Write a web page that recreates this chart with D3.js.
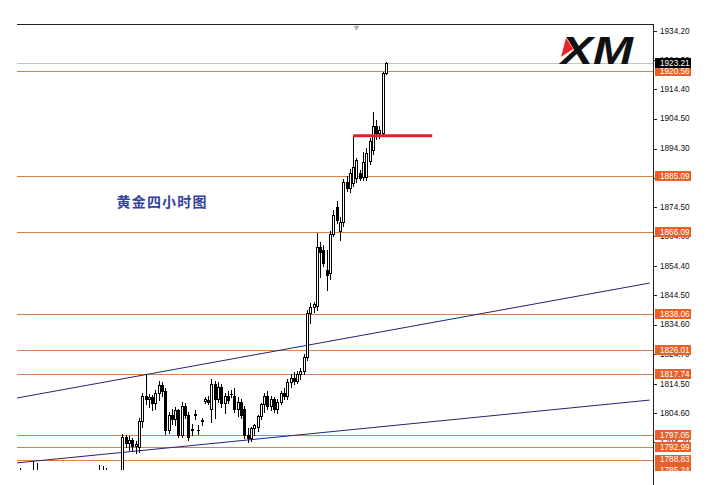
<!DOCTYPE html>
<html><head><meta charset="utf-8">
<script src="https://cdn.jsdelivr.net/npm/d3@7"></script>
<style>body{margin:0;background:#fff}svg{display:block}</style>
</head><body>
<svg id="c" width="713" height="485"></svg>
<script>
// ---- data (XAUUSD H4) ----
const opens  = [1780,1778,1774,1777,1781,1785,1780,1775,1770,1772,1768,1766,1770,1773,1771,1768,1770,1775,1774,1777,1776,1778,1780,1779,1783,1781,1785,1781,1782,1779,1782,
  1779,1796.5,1794.5,1795.5,1793.5,1793,1802,1810.5,1809.5,1810,1808,1811.5,1814,1812,1799,1804,1802.5,1805.5,1797,1807,1804,1799.3,1804,1799,1802,1808.8,1809,1806,1814.5,1809.5,1813.5,1808,1810.5,1811,1810.5,1806,1808.5,1806,1797,1796,1799.5,1800,1803.5,1807.5,1810.5,1807,1809.5,1806,1808.5,1811.5,1810.5,1815.2,1816.5,1815.5,1818,1819,1823.5,1838.5,1840.5,1841,1861,1860,1853,1852,1865.5,1874.5,1866.5,1869.4,1883,1881,1882.5,1884.3,1886,1884.7,1884.7,1890,1893.8,1902,1899.5,1899.5,1920];
const highs  = [1786,1782,1779,1783,1788.5,1787.5,1783,1778,1774,1776,1771,1772,1775,1777,1774,1772,1776,1779,1778,1781,1780,1782,1783,1784,1787,1786.5,1786,1784,1784,1783,1784.8,
  1797.5,1797.3,1796.8,1796,1795,1803,1811.5,1817.7,1811,1810.8,1812.5,1815.5,1815,1813,1805,1806,1806.5,1806,1808.5,1808,1805,1800.8,1805.5,1800.5,1803,1810,1810.5,1816,1815.5,1815,1814.5,1811.5,1812,1812.5,1813,1810,1809.5,1807,1799.5,1800,1801,1804,1808,1811.5,1812,1810.5,1810,1809.5,1812,1813,1816,1818,1818.5,1819,1820,1824.5,1839.5,1842,1842.3,1865.6,1862.5,1861.6,1860,1866.5,1873.5,1876.5,1871,1884,1885,1887.5,1898.7,1891,1887,1893,1894.5,1898,1906.8,1904,1902,1920.2,1923.7];
const lows   = [1776,1772,1770,1775,1779,1779,1774,1768,1765,1767,1762,1764,1768,1769,1766,1765,1769,1772,1771,1774,1773,1776,1777,1777,1780,1779,1780,1778,1777,1776,1778,
  1777,1793,1792,1791.8,1791.2,1791.5,1800,1807.5,1806.5,1805.5,1806,1809,1810.5,1797.5,1798,1801,1800.5,1796.5,1796.5,1803,1795.5,1797.3,1802.5,1797.5,1800.5,1808,1807.5,1801.5,1803,1808.5,1806.5,1804.5,1808,1810,1805,1803.5,1803,1796,1794.8,1795,1797,1798.5,1802.5,1805,1806,1805.5,1805,1804.5,1807.5,1809.5,1809.5,1813.5,1814.5,1814.8,1816,1818,1822.5,1835,1839,1839.5,1850.8,1854.5,1846.3,1850,1864.5,1869,1863.3,1868,1880,1879.5,1881.5,1883,1883.5,1883.8,1883.5,1889,1892.5,1897.5,1898,1898.5,1919.5];
const closes = [1778,1774,1777,1781,1785,1780,1775,1770,1772,1768,1766,1770,1773,1771,1768,1770,1775,1774,1777,1776,1778,1780,1779,1783,1781,1785,1781,1782,1779,1782,1779,
  1796.5,1794.5,1795.5,1793.5,1794.2,1802,1810.5,1809.5,1810,1808,1811.5,1814,1812,1799,1804,1802.5,1805.5,1797,1807,1804,1796.5,1799,1804.2,1798.8,1802.2,1809.2,1808.2,1814.5,1809.5,1813.5,1808,1810.5,1809,1811.2,1806,1808.5,1804,1797,1796,1799.5,1800.5,1803.5,1807.5,1810.5,1807,1809.5,1806,1808.5,1811.5,1810.5,1815.2,1816.5,1815.5,1818,1819,1823.5,1838.5,1840.5,1841.5,1861,1859.2,1855.5,1851.5,1865.5,1871.8,1870,1869.5,1883,1881,1886,1888,1890.4,1884.3,1889.8,1892.8,1897,1902,1899.5,1900.5,1920,1923.21];

const levels      = [1920.56, 1885.09, 1866.09, 1838.06, 1826.01, 1817.74, 1797.05, 1792.99, 1788.83, 1785.24];
const currentPrice = 1923.21;
const tickValues  = [1934.20, 1924.30, 1914.40, 1904.50, 1894.30, 1884.40, 1874.50, 1864.60, 1854.40, 1844.50, 1834.60, 1824.70, 1814.50, 1804.60, 1794.70];
// trend lines: [barIndex, price] pairs
const trendUpper = [[-1, 1809.7], [191, 1848.7]];
const trendLower = [[-1, 1787.7], [191, 1809.0]];
const redSegment = [[101, 1898.7], [125, 1898.7]];
const title = "黄金四小时图";

// ---- layout ----
const L = 17, R = 653, T = 24, B = 470;
const svg = d3.select("#c");
const x = d3.scaleLinear().domain([-1, 192]).range([L, R]);
const y = d3.scaleLinear().domain([1785.28, 1936.57]).range([B, T]);

const defs = svg.append("defs");
defs.append("clipPath").attr("id","plot").append("rect").attr("x",L).attr("y",T).attr("width",R-L).attr("height",B-T);
defs.append("clipPath").attr("id","ax").append("rect").attr("x",R).attr("y",T).attr("width",713-R).attr("height",B-T+1);

const plot = svg.append("g").attr("clip-path","url(#plot)");
const py = v => Math.round(y(v)) + 0.5;

// horizontal levels
plot.selectAll("line.lvl").data(levels).join("line")
  .attr("x1",L).attr("x2",R).attr("y1",d=>py(d)).attr("y2",d=>py(d))
  .attr("stroke","#d4844a").attr("stroke-width",1);
// current price line
plot.append("line").attr("x1",L).attr("x2",R).attr("y1",py(currentPrice)).attr("y2",py(currentPrice))
  .attr("stroke","#c4c4c4").attr("stroke-width",1);

// trend lines
const tl = d3.line().x(d=>x(d[0])).y(d=>y(d[1]));
[trendUpper, trendLower].forEach(t => plot.append("path").attr("d", tl(t))
  .attr("fill","none").attr("stroke","#20246e").attr("stroke-width",1));

// title text
plot.append("text").attr("x", x(29.2)).attr("y", y(1874.4)).text(title)
  .attr("font-family","'Noto Sans CJK SC'").attr("font-size",14).attr("font-weight","bold")
  .attr("letter-spacing","1.2px").attr("fill","#33429a");

// candles
const idx = d3.range(opens.length);
const cg = plot.append("g");
idx.forEach(i => {
  const cx = Math.round(x(i));
  cg.append("line").attr("x1",cx+0.5).attr("x2",cx+0.5).attr("y1",Math.round(y(highs[i]))).attr("y2",Math.round(y(lows[i]))+1)
    .attr("stroke","#000").attr("stroke-width",1);
  const top = Math.round(y(Math.max(opens[i],closes[i]))), bot = Math.round(y(Math.min(opens[i],closes[i])));
  const bull = closes[i] >= opens[i];
  if (bot - top < 1) {
    cg.append("line").attr("x1",cx-1).attr("x2",cx+2).attr("y1",top+0.5).attr("y2",top+0.5).attr("stroke","#000");
  } else {
    cg.append("rect").attr("x",cx-0.5).attr("y",top+0.5).attr("width",2).attr("height",bot-top)
      .attr("fill", bull ? "#fff" : "#000").attr("stroke","#000").attr("stroke-width",1);
  }
});

// red segment
plot.append("path").attr("d", tl(redSegment)).attr("stroke","#e0202c").attr("stroke-width",3).attr("fill","none");

// frame
svg.append("line").attr("x1",L).attr("x2",R+1).attr("y1",T+0.5).attr("y2",T+0.5).attr("stroke","#222");
svg.append("line").attr("x1",R+0.5).attr("x2",R+0.5).attr("y1",T).attr("y2",485).attr("stroke","#222");
// small marker triangle
svg.append("path").attr("d", d3.symbol(d3.symbolTriangle, 14)()).attr("transform",`translate(${x(102)},${T+3.5}) rotate(180)`).attr("fill","#b0b0b0");

// XM logo
const logo = svg.append("g");
logo.append("text").attr("x",561).attr("y",64).text("XM")
  .attr("font-family","'Liberation Sans'").attr("font-weight","bold").attr("font-style","italic")
  .attr("font-size",39).attr("textLength",72).attr("lengthAdjust","spacingAndGlyphs").attr("fill","#111");
logo.append("path").attr("d","M566,38 L573,49 L561,57 Z").attr("fill","#e8232a");

// axis
const ax = svg.append("g").attr("clip-path","url(#ax)");
const fmt = d3.format(".2f");
ax.selectAll("line.tk").data(tickValues).join("line")
  .attr("x1",R).attr("x2",R+4).attr("y1",d=>py(d)).attr("y2",d=>py(d)).attr("stroke","#222");
ax.selectAll("text.tk").data(tickValues).join("text")
  .attr("x",R+7).attr("y",d=>y(d)).attr("dy","0.35em").text(d=>fmt(d))
  .attr("font-family","'Liberation Sans'").attr("font-size",8.2).attr("fill","#111");

function priceLabel(v, bg){
  const g = ax.append("g");
  g.append("rect").attr("x",R+2).attr("y",Math.round(y(v))-5).attr("width",36).attr("height",10).attr("fill",bg);
  g.append("text").attr("x",R+7).attr("y",y(v)).attr("dy","0.36em").text(fmt(v))
    .attr("font-family","'Liberation Sans'").attr("font-size",8.2).attr("fill","#fff");
}
levels.forEach(v => priceLabel(v, "#e85f28"));
priceLabel(currentPrice, "#000");
</script>
</body></html>
